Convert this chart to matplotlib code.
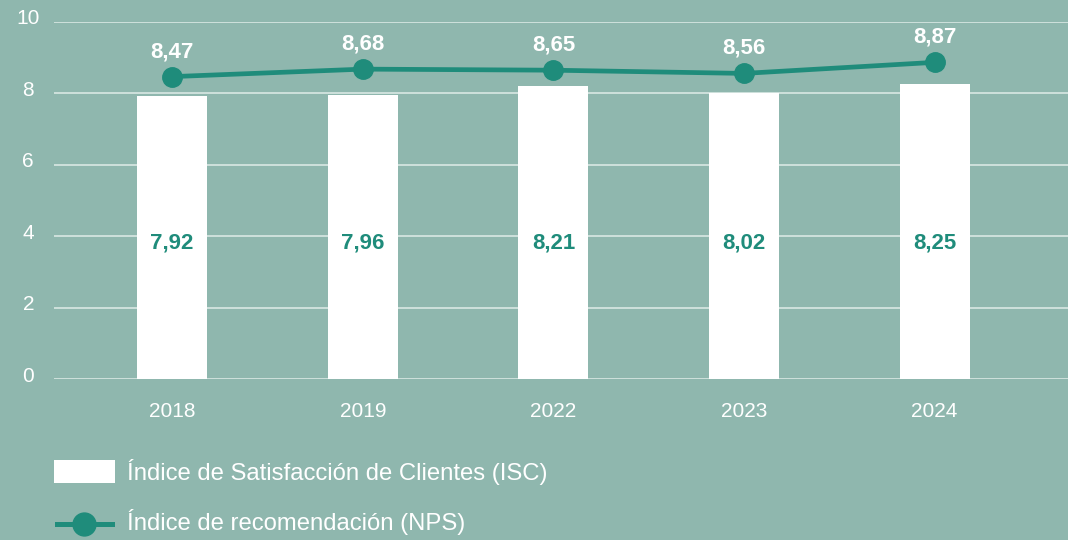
import matplotlib
matplotlib.use("Agg")
import matplotlib.pyplot as plt
from matplotlib.patches import Rectangle
from matplotlib.lines import Line2D
from matplotlib.transforms import ScaledTranslation

years = ["2018", "2019", "2022", "2023", "2024"]
isc = [7.92, 7.96, 8.21, 8.02, 8.25]
nps = [8.47, 8.68, 8.65, 8.56, 8.87]
yticks = [0, 2, 4, 6, 8, 10]

BG = "#8fb7ae"
TEAL = "#1f8c7b"
GRID = "#dfece8"

plt.rcParams["font.family"] = ["Liberation Sans", "DejaVu Sans"]

fig = plt.figure(figsize=(10.68, 5.4), dpi=100, facecolor=BG)
ax = fig.add_axes([54/1068, 1-379/540, 1-54/1068, (379-22)/540])
ax.set_facecolor(BG)
x = list(range(len(years)))

ax.set_ylim(0, 10)
ax.set_xlim(-0.62, 4.70)
ax.set_yticks(yticks)
ax.set_yticklabels([str(v) for v in yticks])
ax.grid(axis="y", color=GRID, lw=1.1)
ax.set_axisbelow(True)
for s in ax.spines.values():
    s.set_visible(False)
ax.tick_params(axis="y", length=0, pad=18.5, labelsize=15, labelcolor="white")
ax.tick_params(axis="x", length=0, pad=16.5, labelsize=15, labelcolor="white")
for lab in ax.get_yticklabels():
    lab.set_horizontalalignment("center")
    lab.set_transform(lab.get_transform() + ScaledTranslation(0, 5/100, fig.dpi_scale_trans))

ax.bar(x, isc, width=0.367, color="white", zorder=2)
ax.set_xticks(x)
ax.set_xticklabels(years)

for xi, v in zip(x, isc):
    ax.text(xi, 3.82, f"{v:.2f}".replace(".", ","), ha="center", va="center",
            color=TEAL, fontsize=16, fontweight="bold", zorder=3)

ax.plot(x, nps, color=TEAL, lw=3.4, marker="o", markersize=14, zorder=4, clip_on=False)
for xi, v in zip(x, nps):
    ax.annotate(f"{v:.2f}".replace(".", ","), (xi, v), xytext=(0, 18),
                textcoords="offset points", ha="center", va="center",
                color="white", fontsize=16, fontweight="bold", zorder=5)

# legend
fig.patches.append(Rectangle((54/1068, 1-483/540), 61/1068, 23/540,
                             transform=fig.transFigure, facecolor="white", edgecolor="none"))
fig.text(127/1068, 1-472/540, "Índice de Satisfacción de Clientes (ISC)", ha="left", va="center",
         color="white", fontsize=17.2)
fig.lines.append(Line2D([57/1068, 112/1068], [1-524/540, 1-524/540], transform=fig.transFigure,
                        color=TEAL, lw=3.6))
fig.lines.append(Line2D([84/1068], [1-524/540], transform=fig.transFigure, color=TEAL,
                        marker="o", markersize=16.5, lw=0))
fig.text(127/1068, 1-522/540, "Índice de recomendación (NPS)", ha="left", va="center",
         color="white", fontsize=17.2)

fig.savefig("out.png", dpi=100, facecolor=BG)
